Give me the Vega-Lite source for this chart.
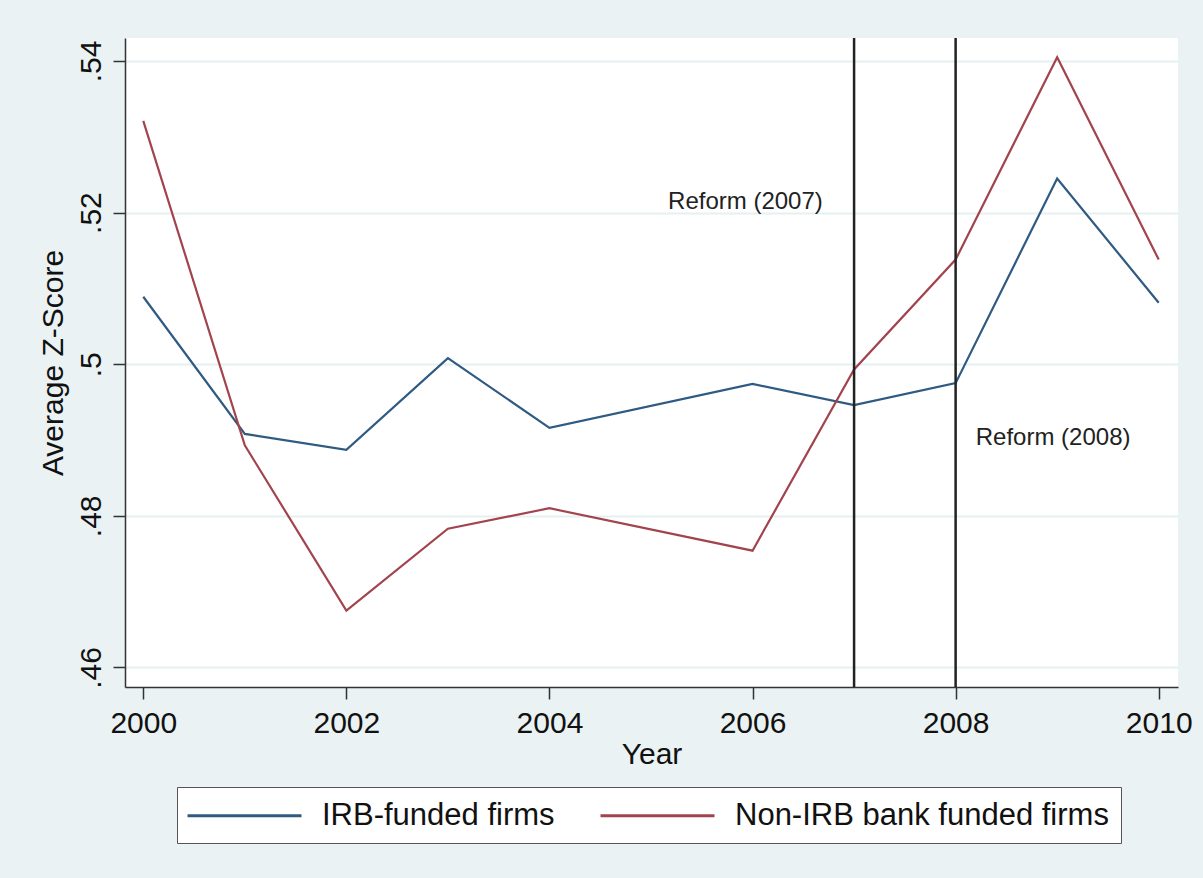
{
  "$schema": "https://vega.github.io/schema/vega-lite/v6.json",
  "width": 1053,
  "height": 649,
  "autosize": {"type": "none"},
  "padding": {"left": 125, "top": 38, "right": 25, "bottom": 191},
  "background": "#EAF2F3",
  "view": {"stroke": null, "fill": "white"},
  "config": {
    "font": "Liberation Sans",
    "axis": {
      "labelFont": "Liberation Sans",
      "titleFont": "Liberation Sans",
      "labelColor": "#111",
      "titleColor": "#111",
      "labelFontSize": 30,
      "titleFontSize": 30,
      "titleFontWeight": "normal",
      "domainColor": "#333",
      "domainWidth": 1.5,
      "tickColor": "#333",
      "tickWidth": 1.5,
      "tickSize": 12
    },
    "legend": {
      "labelFont": "Liberation Sans",
      "labelFontSize": 31,
      "labelColor": "#111"
    }
  },
  "layer": [
    {
      "data": {
        "values": [
          {"year": 2000, "z": 0.5089, "group": "IRB-funded firms"},
          {"year": 2001, "z": 0.4908, "group": "IRB-funded firms"},
          {"year": 2002, "z": 0.4887, "group": "IRB-funded firms"},
          {"year": 2003, "z": 0.5008, "group": "IRB-funded firms"},
          {"year": 2004, "z": 0.4916, "group": "IRB-funded firms"},
          {"year": 2006, "z": 0.4974, "group": "IRB-funded firms"},
          {"year": 2007, "z": 0.4946, "group": "IRB-funded firms"},
          {"year": 2008, "z": 0.4975, "group": "IRB-funded firms"},
          {"year": 2009, "z": 0.5245, "group": "IRB-funded firms"},
          {"year": 2010, "z": 0.5081, "group": "IRB-funded firms"},
          {"year": 2000, "z": 0.5321, "group": "Non-IRB bank funded firms"},
          {"year": 2001, "z": 0.4893, "group": "Non-IRB bank funded firms"},
          {"year": 2002, "z": 0.4675, "group": "Non-IRB bank funded firms"},
          {"year": 2003, "z": 0.4783, "group": "Non-IRB bank funded firms"},
          {"year": 2004, "z": 0.4810, "group": "Non-IRB bank funded firms"},
          {"year": 2006, "z": 0.4754, "group": "Non-IRB bank funded firms"},
          {"year": 2007, "z": 0.4993, "group": "Non-IRB bank funded firms"},
          {"year": 2008, "z": 0.5138, "group": "Non-IRB bank funded firms"},
          {"year": 2009, "z": 0.5405, "group": "Non-IRB bank funded firms"},
          {"year": 2010, "z": 0.5138, "group": "Non-IRB bank funded firms"}
        ]
      },
      "mark": {"type": "line", "strokeWidth": 2.2},
      "encoding": {
        "x": {
          "field": "year",
          "type": "quantitative",
          "scale": {"domain": [1999.82, 2010.19], "nice": false, "zero": false},
          "axis": {
            "title": "Year",
            "values": [2000, 2002, 2004, 2006, 2008, 2010],
            "format": "d",
            "grid": false,
            "labelPadding": 9,
            "titlePadding": 1,
            "labelFlush": false
          }
        },
        "y": {
          "field": "z",
          "type": "quantitative",
          "scale": {"domain": [0.45742, 0.54303], "nice": false, "zero": false},
          "axis": {
            "title": "Average Z-Score",
            "values": [0.46, 0.48, 0.5, 0.52, 0.54],
            "labelExpr": "replace(toString(datum.value), '0.', '.')",
            "labelAngle": -90,
            "labelAlign": "center",
            "labelBaseline": "bottom",
            "labelPadding": 7,
            "titlePadding": 8,
            "grid": true,
            "gridColor": "#E6EFF2",
            "gridWidth": 2,
            "labelFlush": false
          }
        },
        "color": {
          "field": "group",
          "type": "nominal",
          "scale": {
            "domain": ["IRB-funded firms", "Non-IRB bank funded firms"],
            "range": ["#2F5A82", "#A2444D"]
          },
          "legend": {
            "title": null,
            "orient": "none",
            "legendX": 52,
            "legendY": 749,
            "direction": "horizontal",
            "symbolType": "M-3.8,0H3.8",
            "symbolSize": 900,
            "symbolStrokeWidth": 3,
            "symbolOffset": 39,
            "labelOffset": 61,
            "labelLimit": 0,
            "columnPadding": 39,
            "padding": 12,
            "fillColor": "white",
            "strokeColor": "#555",
            "cornerRadius": 0
          }
        }
      }
    },
    {
      "data": {"values": [{"year": 2007}, {"year": 2008}]},
      "mark": {"type": "rule", "color": "#222", "strokeWidth": 2.5},
      "encoding": {
        "x": {"field": "year", "type": "quantitative"}
      }
    },
    {
      "data": {
        "values": [
          {"year": 2005.93, "z": 0.5214, "label": "Reform (2007)"},
          {"year": 2008.96, "z": 0.4903, "label": "Reform (2008)"}
        ]
      },
      "mark": {"type": "text", "fontSize": 24, "color": "#222", "align": "center", "baseline": "middle", "font": "Liberation Sans"},
      "encoding": {
        "x": {"field": "year", "type": "quantitative"},
        "y": {"field": "z", "type": "quantitative"},
        "text": {"field": "label"}
      }
    }
  ]
}
